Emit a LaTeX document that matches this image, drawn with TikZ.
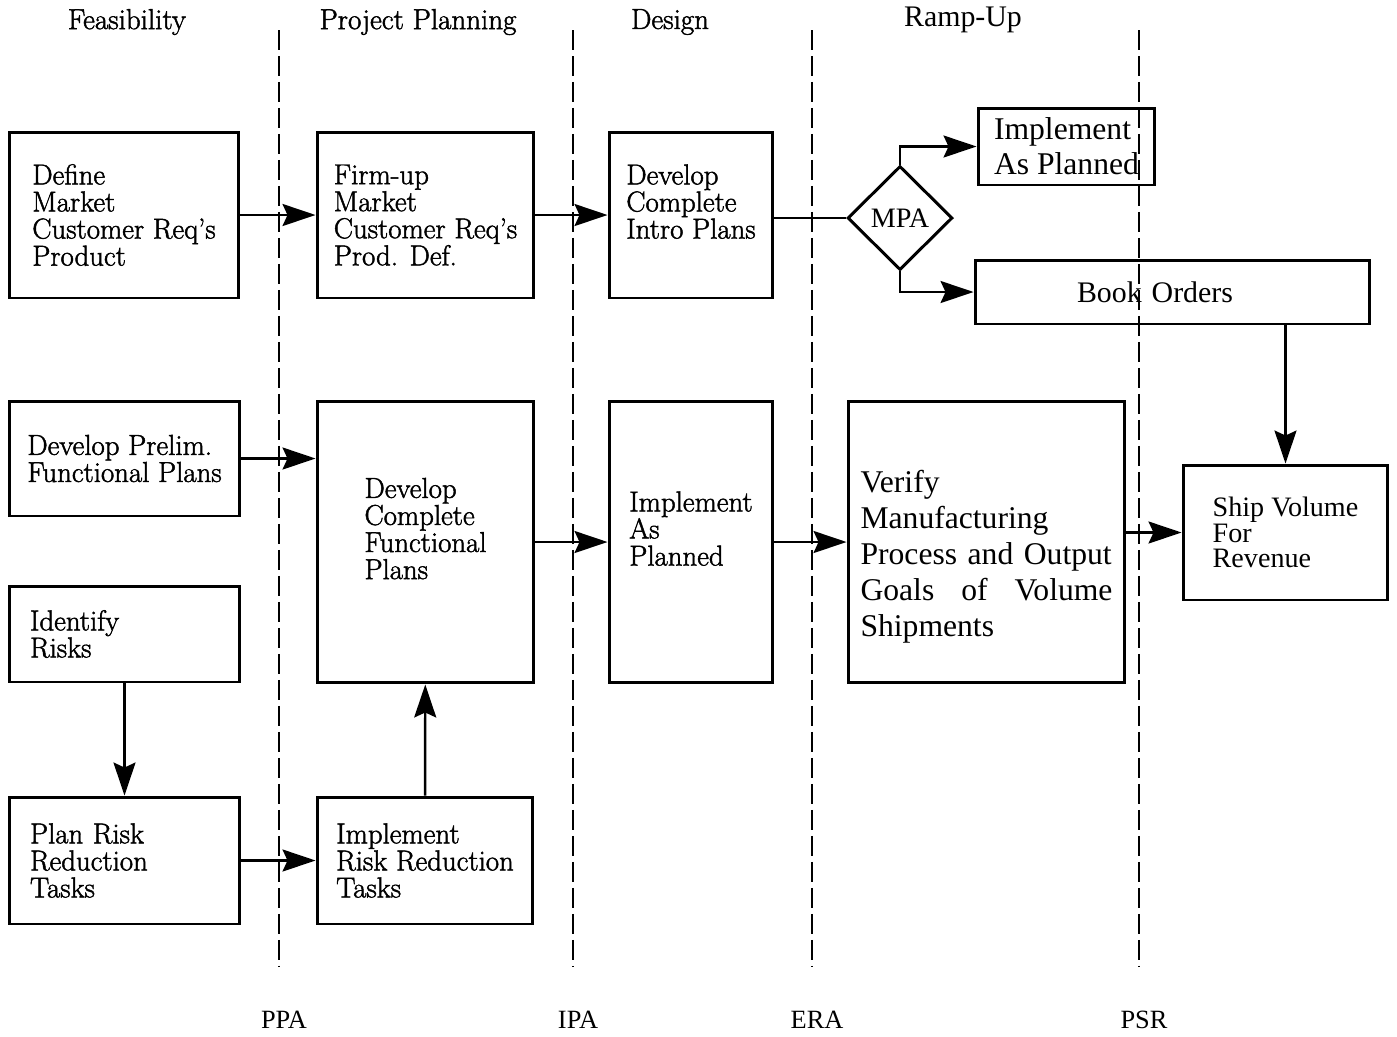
\documentclass[tikz,border=0pt]{standalone}
\usepackage{fontspec}
\newfontfamily\timesfont{Liberation Serif}
\newfontfamily\palfont{Latin Modern Roman}[Ligatures=TeX, FakeBold=1.6]
\usetikzlibrary{arrows.meta,shapes.geometric}
\newcommand\boxfont{\palfont\fontsize{16.4}{15.4}\selectfont}
\newcommand\headfont{\palfont\fontsize{16.5}{18}\selectfont}
\tikzset{
  stage/.style 2 args={draw, line width=1.7pt, align=left, inner sep=0pt,
    minimum width=#1, minimum height=#2, font=\boxfont},
  flow/.style={line width=1.4pt, -{Stealth[length=0.66cm,width=0.44cm,inset=0.1cm]}},
  link/.style={line width=1.4pt},
  gate/.style={line width=1.6pt, dash pattern=on 0.4cm off 0.12cm},
  phase/.style={font=\headfont}
}

\begin{document}
\begin{tikzpicture}[x=0.02cm, y=-0.02cm]
\useasboundingbox (0,0) rectangle (1397,1036);
\foreach \gx/\gate in {279/PPA, 573/IPA, 812/ERA, 1139/PSR}{
  \draw[gate] (\gx,30) -- (\gx,966);
  \node[font=\timesfont\fontsize{15}{17}\selectfont] (\gate) at (\gx+5,1020) {\gate};
}
\node[phase] (feas) at (127,22) {Feasibility};
\node[phase] (plan) at (418,22) {Project Planning};
\node[phase] (design) at (670,22) {Design};
\node[font=\timesfont\fontsize{17}{19}\selectfont] (ramp) at (963,20) {Ramp-Up};

\node[stage={4.6cm}{3.32cm}] (define) at (124,215) {Define\\Market\\Customer Req's\\Product};
\node[stage={4.34cm}{3.32cm}] (firmup) at (425.5,215) {Firm-up\\Market\\Customer Req's\\Prod. Def.};
\node[stage={3.28cm}{3.32cm}] (intro) at (691,215) {Develop\\Complete\\Intro Plans\\~};
\node[draw, diamond, line width=1.7pt, inner sep=0pt, minimum width=2.1cm, minimum height=2.08cm,
  font=\timesfont\fontsize{16}{18}\selectfont] (mpa) at (900,218) {MPA};
\node[stage={3.54cm}{1.54cm}, font=\timesfont\fontsize{18}{20}\selectfont] (asplanned) at (1066.5,146.5) {Implement\\As Planned};
\node[stage={7.9cm}{1.28cm}, text width=3.82cm, font=\timesfont\fontsize{17}{19}\selectfont] (orders) at (1172.5,292) {Book Orders};

\node[stage={4.62cm}{2.3cm}] (prelim) at (124.5,458.5) {Develop Prelim.\\Functional Plans};
\node[stage={4.34cm}{5.64cm}] (functional) at (425.5,542) {Develop\\Complete\\Functional\\Plans\\~};
\node[stage={3.28cm}{5.64cm}] (implement) at (691,542) {Implement\\As\\Planned\\~};
\node[stage={5.54cm}{5.64cm}, text width=5.04cm, font=\timesfont\fontsize{18}{20.5}\selectfont] (verify) at (986.5,542)
  {~\\[0.3cm]Verify\\Manufacturing\\Process and Output\\Goals\hfill of\hfill Volume\\Shipments};
\node[stage={4.1cm}{2.7cm}, font=\timesfont\fontsize{16}{14.5}\selectfont] (ship) at (1285.5,532.5) {Ship Volume\\For\\Revenue};
\node[stage={4.62cm}{1.92cm}, text width=3.78cm] (risks) at (124.5,634) {Identify\\Risks};
\node[stage={4.62cm}{2.54cm}, text width=3.78cm] (planrisk) at (124.5,860.5) {Plan Risk\\Reduction\\Tasks};
\node[stage={4.32cm}{2.54cm}] (reduce) at (425,860.5) {Implement\\Risk Reduction\\Tasks};

\draw[flow] (define) -- (firmup);
\draw[flow] (firmup) -- (intro);
\draw[link] (intro.east |- mpa) -- (mpa);
\draw[flow] (mpa.north) |- (asplanned);
\draw[flow] (mpa.south) |- (orders);
\draw[flow] (orders.south -| ship.north) -- (ship.north);
\draw[flow] (prelim) -- (prelim -| functional.west);
\draw[flow] (functional) -- (implement);
\draw[flow] (implement) -- (verify);
\draw[flow] (verify.east |- ship) -- (ship);
\draw[flow] (risks) -- (planrisk);
\draw[flow] (planrisk) -- (reduce);
\draw[flow] (reduce) -- (functional);
\end{tikzpicture}
\end{document}
